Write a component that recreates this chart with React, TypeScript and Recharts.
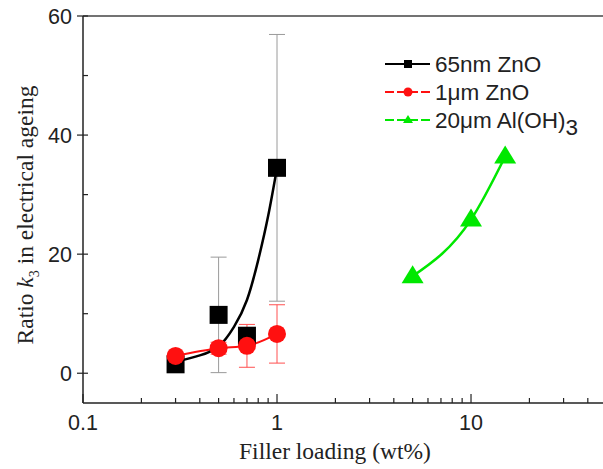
import React from "react";
import {
  ComposedChart,
  XAxis,
  YAxis,
  Scatter,
  Line,
  ErrorBar,
  ReferenceLine,
  Legend,
} from "recharts";

// 65 nm ZnO
const nanoLoading = [0.3, 0.5, 0.7, 1];
const nanoRatio = [1.5, 9.8, 6.3, 34.5];
const nanoErr = [0, 9.7, 1.2, 22.4];

// exponential fit through the 65 nm points
const fitLoading = [0.3, 0.4, 0.5, 0.6, 0.7, 0.8, 0.9, 1.0];
const fitRatio = [1.9, 3.0, 4.5, 7.8, 12.3, 19, 26.4, 34.5];

// 1 um ZnO
const microLoading = [0.3, 0.5, 0.7, 1];
const microRatio = [2.9, 4.2, 4.6, 6.6];
const microErr = [0.4, 1.0, 3.6, 4.9];

// 20 um Al(OH)3
const athLoading = [5, 10, 15];
const athRatio = [16.3, 25.8, 36.4];

const xTicks = [
  0.1, 0.2, 0.3, 0.4, 0.5, 0.6, 0.7, 0.8, 0.9, 1, 2, 3, 4, 5, 6, 7, 8, 9, 10,
  20, 30, 40,
];
const xLabelled = [0.1, 1, 10];
const yTicks = [0, 10, 20, 30, 40, 50, 60];
const yLabelled = [0, 20, 40, 60];

const nanoData = nanoLoading.map((x, i) => ({ x, y: nanoRatio[i], err: nanoErr[i] }));
const fitData = fitLoading.map((x, i) => ({ x, y: fitRatio[i] }));
const microData = microLoading.map((x, i) => ({ x, y: microRatio[i], err: microErr[i] }));
const athData = athLoading.map((x, i) => ({ x, y: athRatio[i] }));

const SANS = "'Liberation Sans', Arial, sans-serif";
const SERIF = "'Liberation Serif', 'Times New Roman', serif";
const AXIS = "#222";
const RED = "#ff1010";
const GREEN = "#00e800";

const Square = (p: any) => (
  <rect x={p.cx - 9} y={p.cy - 9} width={18} height={18} fill="#000" />
);
const Dot = (p: any) => <circle cx={p.cx} cy={p.cy} r={9} fill={RED} />;
const Tri = (p: any) => (
  <polygon
    points={`${p.cx},${p.cy - 11} ${p.cx - 11},${p.cy + 7} ${p.cx + 11},${p.cy + 7}`}
    fill={GREEN}
  />
);

function XTick({ x, y, payload }: any) {
  const major = xLabelled.includes(payload.value);
  return (
    <g>
      <line x1={x} x2={x} y1={y} y2={y - (major ? 9 : 5)} stroke={AXIS} strokeWidth={1.2} />
      {major && (
        <text x={x} y={y + 27} textAnchor="middle" fontSize={21.5} fontFamily={SANS} fill="#222">
          {payload.value}
        </text>
      )}
    </g>
  );
}

function YTick({ x, y, payload }: any) {
  const major = yLabelled.includes(payload.value);
  return (
    <g>
      <line x1={major ? x - 6 : x} x2={x + 5} y1={y} y2={y} stroke={AXIS} strokeWidth={1.2} />
      {major && (
        <text x={x - 11} y={y + 7.5} textAnchor="end" fontSize={21.5} fontFamily={SANS} fill="#222">
          {payload.value}
        </text>
      )}
    </g>
  );
}

const legendRows = [
  { name: "65nm ZnO", sub: "", color: "#000", kind: "square" },
  { name: "1\u03bcm ZnO", sub: "", color: RED, kind: "circle" },
  { name: "20\u03bcm Al(OH)", sub: "3", color: GREEN, kind: "triangle" },
];

function LegendBox() {
  return (
    <svg width={220} height={104}>
      {legendRows.map((r, i) => {
        const cy = 16 + i * 28;
        return (
          <g key={r.name}>
            <line
              x1={2}
              x2={47}
              y1={cy}
              y2={cy}
              stroke={r.color}
              strokeWidth={2}
              strokeDasharray={r.kind === "square" ? undefined : "9 3"}
            />
            {r.kind === "square" && <rect x={21} y={cy - 4} width={8} height={8} fill={r.color} />}
            {r.kind === "circle" && <circle cx={25} cy={cy} r={4.5} fill={r.color} />}
            {r.kind === "triangle" && (
              <polygon points={`25,${cy - 5} 20,${cy + 3} 30,${cy + 3}`} fill={r.color} />
            )}
            <text x={52} y={cy + 8} fontSize={22.5} fontFamily={SANS} fill="#222">
              {r.name}
              {r.sub && <tspan dy={7}>{r.sub}</tspan>}
            </text>
          </g>
        );
      })}
    </svg>
  );
}

export default function App() {
  return (
    <div style={{ position: "absolute", left: 0, top: 0, background: "#fff" }}>
      <ComposedChart width={603} height={469} margin={{ top: 16, right: 0, left: 0, bottom: 0 }}>
        <XAxis
          dataKey="x"
          type="number"
          scale="log"
          domain={[0.1, 47.9]}
          allowDataOverflow
          ticks={xTicks}
          interval={0}
          tickSize={0}
          tickMargin={0}
          tick={<XTick />}
          height={66}
          axisLine={{ stroke: AXIS, strokeWidth: 1.5 }}
          label={{
            content: () => (
              <text x={335} y={459} textAnchor="middle" fontSize={23.5} fontFamily={SERIF} fill="#222">
                Filler loading (wt%)
              </text>
            ),
          }}
        />
        <YAxis
          dataKey="y"
          type="number"
          domain={[-5, 60]}
          allowDataOverflow
          ticks={yTicks}
          interval={0}
          tickSize={0}
          tickMargin={0}
          tick={<YTick />}
          width={83}
          axisLine={{ stroke: AXIS, strokeWidth: 1.5 }}
          label={{
            content: () => (
              <text
                x={33}
                y={215}
                transform="rotate(-90 33 215)"
                textAnchor="middle"
                fontSize={23.5}
                fontFamily={SERIF}
                fill="#222"
              >
                Ratio <tspan fontStyle="italic">k</tspan>
                <tspan dy={6} fontSize={14}>3</tspan>
                <tspan dy={-6}> in electrical ageing</tspan>
              </text>
            ),
          }}
        />
        <ReferenceLine y={60} stroke="#444" strokeWidth={1.5} ifOverflow="visible" />

        <Scatter data={nanoData} shape={Square} isAnimationActive={false}>
          <ErrorBar dataKey="err" direction="y" width={8} stroke="#9a9a9a" strokeWidth={1} />
        </Scatter>
        <Line
          data={microData}
          dataKey="y"
          type="monotone"
          stroke={RED}
          strokeWidth={2}
          dot={false}
          activeDot={false}
          isAnimationActive={false}
        />
        <Scatter data={microData} shape={Dot} isAnimationActive={false}>
          <ErrorBar dataKey="err" direction="y" width={8} stroke="#ff5050" strokeWidth={1} />
        </Scatter>
        <Line
          data={fitData}
          dataKey="y"
          type="natural"
          stroke="#000"
          strokeWidth={2.5}
          dot={false}
          activeDot={false}
          isAnimationActive={false}
        />
        <Line
          data={athData}
          dataKey="y"
          type="monotone"
          stroke={GREEN}
          strokeWidth={2.5}
          dot={false}
          activeDot={false}
          isAnimationActive={false}
        />
        <Scatter data={athData} shape={Tri} isAnimationActive={false} />

        <Legend
          layout="horizontal"
          verticalAlign="middle"
          align="center"
          wrapperStyle={{ position: "absolute", left: 383, top: 48, width: 220, height: 104 }}
          content={() => <LegendBox />}
        />
      </ComposedChart>
    </div>
  );
}
